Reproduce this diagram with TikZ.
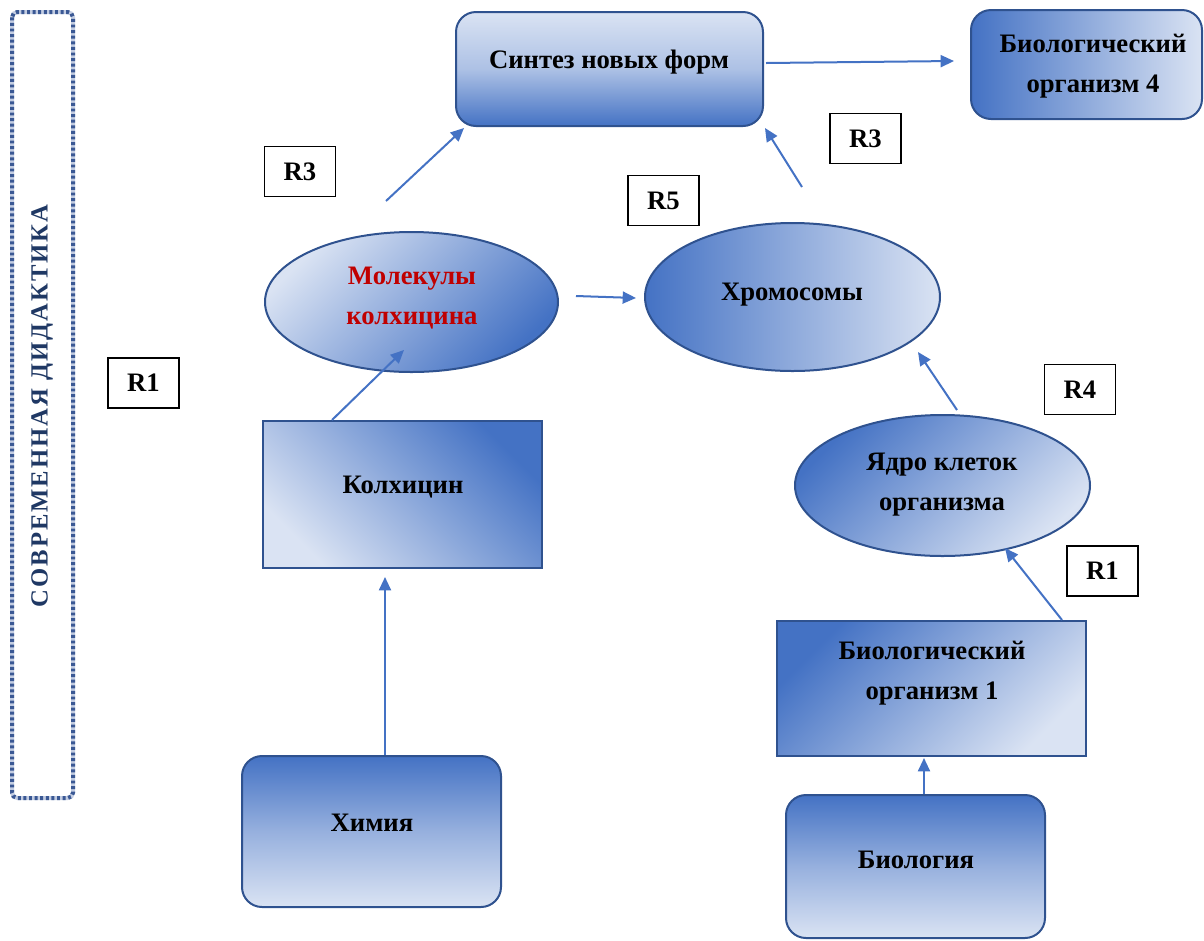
\documentclass[tikz,border=0pt]{standalone}
\usepackage{fontspec}
\setmainfont{Liberation Serif}
\newfontfamily\spacedbold[LetterSpace=8]{Liberation Serif Bold}
\usetikzlibrary{shapes.geometric,arrows.meta,calc}
\definecolor{blueA}{HTML}{4472C4}
\definecolor{lightA}{HTML}{DAE3F3}
\definecolor{edgeA}{HTML}{2F528F}
\definecolor{navyA}{HTML}{1F3864}
\definecolor{redA}{HTML}{C00000}
\definecolor{ropeA}{HTML}{C3CDE2}
\definecolor{ropeB}{HTML}{3A5894}
\newcommand\pxl[1]{#1*0.75pt}
\begin{document}
\begin{tikzpicture}[x=0.75pt,y=-0.75pt,
  shapebox/.style={draw=edgeA, line width=1.5pt, inner sep=0pt},
  rbox/.style={shapebox, rectangle, rounded corners=15pt},
  sbox/.style={shapebox, rectangle},
  ebox/.style={shapebox, ellipse},
  lbl/.style={font=\fontsize{20}{30}\selectfont\bfseries, align=center, inner sep=0pt},
  tag/.style={draw=black, line width=1.1pt, fill=white, minimum width=\pxl{71}, minimum height=\pxl{50},
    font=\fontsize{20}{24}\selectfont\bfseries, inner sep=0pt},
  arr/.style={draw=blueA, line width=1.5pt, -{Triangle[length=10pt,width=9pt]}},
]
\useasboundingbox (0,0) rectangle (1204,940);

% side banner
\draw[ropeA, line width=3pt, rounded corners=4pt] (12,12) rectangle (73,798);
\draw[ropeB, line width=3pt, rounded corners=4pt, dash pattern=on 2.2pt off 2pt] (12,12) rectangle (73,798);
\node[rotate=90, font=\spacedbold\fontsize{18.5}{20}\selectfont, text=navyA, inner sep=0pt] (didactic) at (42,406)
  {СОВРЕМЕННАЯ ДИДАКТИКА};

% shapes
\node[rbox, top color=lightA, bottom color=blueA, middle color=lightA!70!blueA,
  minimum width=\pxl{307}, minimum height=\pxl{114}] (sintez) at (609.5,69) {};
\node[rbox, left color=blueA, right color=lightA,
  minimum width=\pxl{231}, minimum height=\pxl{109}] (bio4) at (1086.5,64.5) {};
\node[ebox, top color=lightA, bottom color=blueA, shading angle=45,
  minimum width=\pxl{293}, minimum height=\pxl{140}] (molec) at (411.5,302) {};
\node[ebox, left color=blueA, right color=lightA,
  minimum width=\pxl{295}, minimum height=\pxl{148}] (chrom) at (792.5,297) {};
\node[sbox, top color=blueA, bottom color=lightA, shading angle=-45,
  minimum width=\pxl{279}, minimum height=\pxl{147}] (kolh) at (402.5,494.5) {};
\node[ebox, top color=blueA, bottom color=lightA, shading angle=45,
  minimum width=\pxl{295}, minimum height=\pxl{141}] (yadro) at (942.5,485.5) {};
\node[sbox, top color=blueA, bottom color=lightA, shading angle=45,
  minimum width=\pxl{309}, minimum height=\pxl{135}] (bio1) at (931.5,688.5) {};
\node[rbox, top color=blueA, bottom color=lightA, middle color=lightA!55!blueA,
  minimum width=\pxl{259}, minimum height=\pxl{151}] (chem) at (371.5,831.5) {};
\node[rbox, top color=blueA, bottom color=lightA, middle color=lightA!55!blueA,
  minimum width=\pxl{259}, minimum height=\pxl{143}] (biol) at (915.5,866.5) {};

% texts
\node[lbl, anchor=base] (sintez-t) at (609,68) {Синтез новых форм};
\node[lbl] (bio4-t) at (1093,66.5) {Биологический\\организм 4};
\node[lbl, text=redA] (molec-t) at (412,298.5) {Молекулы\\колхицина};
\node[lbl, anchor=base] (chrom-t) at (792,300) {Хромосомы};
\node[lbl, anchor=base] (kolh-t) at (403,493) {Колхицин};
\node[lbl] (yadro-t) at (942,484.5) {Ядро клеток\\организма};
\node[lbl] (bio1-t) at (932,673.5) {Биологический\\организм 1};
\node[lbl, anchor=base] (chem-t) at (372,831) {Химия};
\node[lbl, anchor=base] (biol-t) at (916,868) {Биология};

% relation tags
\node[tag] (r1a) at (143.5,383) {R1};
\node[tag] (r3a) at (300,171.5) {R3};
\node[tag] (r5) at (663.5,200.5) {R5};
\node[tag] (r3b) at (865.5,138.5) {R3};
\node[tag] (r4) at (1080,389.5) {R4};
\node[tag] (r1b) at (1102.5,571) {R1};

% connector ends
\coordinate (s4a) at ($(sintez.east)+(2,-6)$);
\coordinate (s4b) at ($(bio4.west)+(-16,-3.5)$);
\coordinate (msa) at (386,201);
\coordinate (msb) at ($(sintez.south west)+(9,1)$);
\coordinate (csa) at (802,187);
\coordinate (csb) at ($(sintez.south east)+(1,1)$);
\coordinate (mca) at (576,296);
\coordinate (mcb) at ($(chrom.west)+(-8,1)$);
\coordinate (kma) at ($(kolh.north west)+(70,0)$);
\coordinate (kmb) at (404,350);
\coordinate (cka) at ($(chem.north west)+(144,0)$);
\coordinate (ckb) at ($(kolh.south west)+(123,8)$);
\coordinate (yca) at (957,410);
\coordinate (ycb) at (918,352);
\coordinate (bya) at ($(bio1.north west)+(286,0)$);
\coordinate (byb) at (1005,548);
\coordinate (bba) at ($(biol.north west)+(139,0)$);
\coordinate (bbb) at ($(bio1.south west)+(148,1)$);

% connectors
\draw[arr] (s4a) -- (s4b);
\draw[arr] (msa) -- (msb);
\draw[arr] (csa) -- (csb);
\draw[arr] (mca) -- (mcb);
\draw[arr] (kma) -- (kmb);
\draw[arr] (cka) -- (ckb);
\draw[arr] (yca) -- (ycb);
\draw[arr] (bya) -- (byb);
\draw[arr] (bba) -- (bbb);
\end{tikzpicture}
\end{document}
